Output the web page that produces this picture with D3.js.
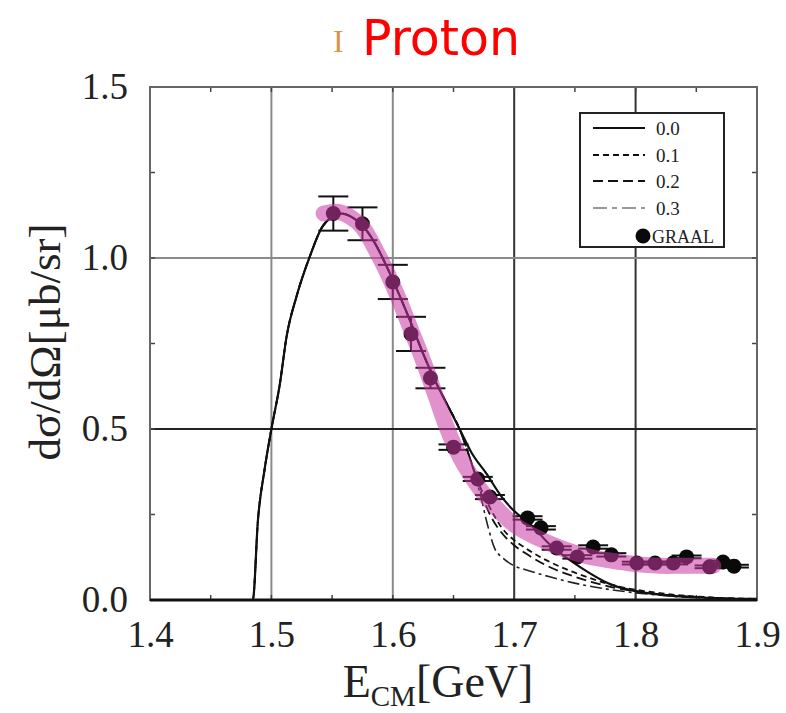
<!DOCTYPE html>
<html>
<head>
<meta charset="utf-8">
<script src="https://cdn.jsdelivr.net/npm/d3@7/dist/d3.min.js"></script>
<style>
  html, body { margin: 0; padding: 0; background: #fff; }
  svg { display: block; }
</style>
</head>
<body>
<script>
// ---------- data ----------
const xTickValues = [1.4, 1.5, 1.6, 1.7, 1.8, 1.9];
const yTickValues = [0.0, 0.5, 1.0, 1.5];
const legendLabels = ["0.0", "0.1", "0.2", "0.3"];

// shared part of the model curves (threshold rise, peak and fall)
const commonE = [1.400, 1.4847, 1.4889, 1.4944, 1.500, 1.5069, 1.5125, 1.5208, 1.532, 1.5417, 1.550, 1.558, 1.566, 1.575, 1.585, 1.595, 1.605, 1.615, 1.625, 1.635, 1.645, 1.655];
const commonY = [0.000, 0.000, 0.233, 0.382, 0.500, 0.630, 0.770, 0.889, 1.008, 1.090, 1.120, 1.130, 1.120, 1.095, 1.045, 0.975, 0.895, 0.810, 0.720, 0.640, 0.570, 0.500];

// tails after the models split
const tail00E = [1.665, 1.677, 1.690, 1.700, 1.713, 1.730, 1.754, 1.780, 1.810, 1.850, 1.900];
const tail00Y = [0.430, 0.370, 0.300, 0.260, 0.222, 0.160, 0.097, 0.045, 0.020, 0.008, 0.003];
const tail01E = [1.663, 1.672, 1.680, 1.690, 1.700, 1.710, 1.730, 1.750, 1.780, 1.820, 1.860, 1.900];
const tail01Y = [0.420, 0.330, 0.270, 0.210, 0.175, 0.150, 0.110, 0.080, 0.045, 0.020, 0.008, 0.003];
const tail02E = [1.663, 1.672, 1.680, 1.690, 1.700, 1.710, 1.730, 1.750, 1.780, 1.820, 1.860, 1.900];
const tail02Y = [0.420, 0.320, 0.250, 0.195, 0.160, 0.135, 0.095, 0.068, 0.038, 0.017, 0.007, 0.002];
const tail03E = [1.663, 1.672, 1.678, 1.684, 1.690, 1.700, 1.710, 1.730, 1.757, 1.780, 1.820, 1.860, 1.900];
const tail03Y = [0.420, 0.310, 0.220, 0.150, 0.125, 0.100, 0.088, 0.067, 0.044, 0.030, 0.014, 0.005, 0.002];

// GRAAL data
const graalE   = [1.551, 1.575, 1.600, 1.615, 1.631, 1.650, 1.670, 1.680, 1.711, 1.722, 1.735, 1.752, 1.765, 1.780, 1.801, 1.816, 1.831, 1.842, 1.861, 1.872, 1.881];
const graalY   = [1.130, 1.100, 0.930, 0.778, 0.649, 0.447, 0.354, 0.301, 0.240, 0.211, 0.152, 0.126, 0.155, 0.132, 0.108, 0.108, 0.108, 0.126, 0.097, 0.111, 0.099];
const graalErr = [0.050, 0.048, 0.050, 0.050, 0.030, 0.008, 0.006, 0.006, 0.005, 0.005, 0.005, 0.005, 0.005, 0.005, 0.004, 0.004, 0.004, 0.004, 0.004, 0.004, 0.004];

// highlighted band
const bandE = [1.543, 1.555, 1.565, 1.575, 1.585, 1.595, 1.605, 1.615, 1.625, 1.635, 1.645, 1.655, 1.665, 1.675, 1.685, 1.700, 1.720, 1.740, 1.760, 1.780, 1.800, 1.820, 1.840, 1.864];
const bandY = [1.130, 1.135, 1.120, 1.090, 1.030, 0.960, 0.880, 0.790, 0.700, 0.600, 0.500, 0.420, 0.360, 0.310, 0.270, 0.220, 0.180, 0.150, 0.128, 0.115, 0.105, 0.100, 0.100, 0.100];

// ---------- layout ----------
const W = 786, H = 713;
const L = 150, R = 757, T = 87, B = 600;

const svg = d3.select("body").append("svg").attr("width", W).attr("height", H);
svg.append("rect").attr("width", W).attr("height", H).attr("fill", "#fff");

const x = d3.scaleLinear().domain([1.4, 1.9]).range([L, R]);
const y = d3.scaleLinear().domain([0, 1.5]).range([B, T]);

const serif = "'Liberation Serif','Times New Roman',serif";

// grid lines
const gridV = [1.5, 1.6, 1.7, 1.8];
const gridVColor = ["#8a8a8a", "#8a8a8a", "#333", "#333"];
svg.append("g").selectAll("line").data(gridV).join("line")
  .attr("x1", d => x(d)).attr("x2", d => x(d)).attr("y1", T).attr("y2", B)
  .attr("stroke", (d, i) => gridVColor[i]).attr("stroke-width", 2);
const gridH = [0.5, 1.0];
const gridHColor = ["#222", "#8a8a8a"];
svg.append("g").selectAll("line").data(gridH).join("line")
  .attr("x1", L).attr("x2", R).attr("y1", d => y(d)).attr("y2", d => y(d))
  .attr("stroke", (d, i) => gridHColor[i]).attr("stroke-width", 2);

// minor ticks on all four sides
const xMinor = x.ticks(10);
const yMinor = d3.range(0, 1.5001, 0.25);
const tk = svg.append("g").attr("stroke", "#444").attr("stroke-width", 1.5);
tk.selectAll(".xb").data(xMinor).join("line")
  .attr("x1", d => x(d)).attr("x2", d => x(d)).attr("y1", B).attr("y2", B - 5);
tk.selectAll(".xt").data(xMinor).join("line")
  .attr("x1", d => x(d)).attr("x2", d => x(d)).attr("y1", T).attr("y2", T + 5);
tk.selectAll(".yl").data(yMinor).join("line")
  .attr("x1", L).attr("x2", L + 5).attr("y1", d => y(d)).attr("y2", d => y(d));
tk.selectAll(".yr").data(yMinor).join("line")
  .attr("x1", R).attr("x2", R - 5).attr("y1", d => y(d)).attr("y2", d => y(d));

// frame
svg.append("rect").attr("x", L).attr("y", T).attr("width", R - L).attr("height", B - T)
  .attr("fill", "none").attr("stroke", "#666").attr("stroke-width", 2);
svg.append("line").attr("x1", L).attr("x2", R).attr("y1", B).attr("y2", B)
  .attr("stroke", "#111").attr("stroke-width", 3);

// axes labels (tick text)
const xAxis = svg.append("g").attr("transform", `translate(0,${B})`)
  .call(d3.axisBottom(x).tickValues(xTickValues).tickFormat(d3.format(".1f")).tickSize(0).tickPadding(21));
xAxis.select(".domain").remove();
xAxis.selectAll("text").attr("font-family", serif).attr("font-size", 37).attr("fill", "#222");

const yAxis = svg.append("g").attr("transform", `translate(${L},0)`)
  .call(d3.axisLeft(y).tickValues(yTickValues).tickFormat(d3.format(".1f")).tickSize(0).tickPadding(22));
yAxis.select(".domain").remove();
yAxis.selectAll("text").attr("font-family", serif).attr("font-size", 37).attr("fill", "#222");

// model curves
const line = d3.line().x(d => x(d[0])).y(d => y(d[1])).curve(d3.curveMonotoneX);
const mk = (tE, tY) => d3.zip(commonE, commonY).concat(d3.zip(tE, tY));
const models = [
  { pts: mk(tail00E, tail00Y), dash: null, color: "#111", w: 2.2 },
  { pts: mk(tail01E, tail01Y), dash: "6,4", color: "#111", w: 1.8 },
  { pts: mk(tail02E, tail02Y), dash: "10,5", color: "#111", w: 1.8 },
  { pts: mk(tail03E, tail03Y), dash: "12,4,3,4", color: "#222", w: 1.6 }
];
svg.append("g").selectAll("path").data(models.slice().reverse()).join("path")
  .attr("d", d => line(d.pts)).attr("fill", "none")
  .attr("stroke", d => d.color).attr("stroke-width", d => d.w)
  .attr("stroke-dasharray", d => d.dash);

// GRAAL points with error bars
const graal = d3.zip(graalE, graalY, graalErr);
const gp = svg.append("g");
gp.selectAll(".eb").data(graal).join("line")
  .attr("x1", d => x(d[0])).attr("x2", d => x(d[0]))
  .attr("y1", d => y(d[1] - d[2])).attr("y2", d => y(d[1] + d[2]))
  .attr("stroke", "#111").attr("stroke-width", 2);
gp.selectAll(".capT").data(graal).join("line")
  .attr("x1", d => x(d[0]) - 15).attr("x2", d => x(d[0]) + 15)
  .attr("y1", d => y(d[1] + d[2])).attr("y2", d => y(d[1] + d[2]))
  .attr("stroke", "#111").attr("stroke-width", 2);
gp.selectAll(".capB").data(graal).join("line")
  .attr("x1", d => x(d[0]) - 15).attr("x2", d => x(d[0]) + 15)
  .attr("y1", d => y(d[1] - d[2])).attr("y2", d => y(d[1] - d[2]))
  .attr("stroke", "#111").attr("stroke-width", 2);
gp.selectAll("circle").data(graal).join("circle")
  .attr("cx", d => x(d[0])).attr("cy", d => y(d[1])).attr("r", 7.5).attr("fill", "#0a0a0a");

// pink band on top
const bandLine = d3.line().x(d => x(d[0])).y(d => y(d[1])).curve(d3.curveCatmullRom);
svg.append("path").attr("d", bandLine(d3.zip(bandE, bandY)))
  .attr("fill", "none").attr("stroke", "rgb(200,55,160)").attr("stroke-opacity", 0.55)
  .attr("stroke-width", 16).attr("stroke-linecap", "round").attr("stroke-linejoin", "round");

// legend
const lg = svg.append("g");
lg.append("rect").attr("x", 580).attr("y", 113).attr("width", 144).attr("height", 134)
  .attr("fill", "#fff").attr("stroke", "#222").attr("stroke-width", 2);
const rowY = [128, 155, 181, 208];
lg.selectAll(".ll").data(models).join("line")
  .attr("x1", 593).attr("x2", 645)
  .attr("y1", (d, i) => rowY[i]).attr("y2", (d, i) => rowY[i])
  .attr("stroke", (d, i) => i === 3 ? "#999" : "#111").attr("stroke-width", 2)
  .attr("stroke-dasharray", (d, i) => i === 3 ? "14,5,5,5" : d.dash);
lg.selectAll(".lt").data(legendLabels).join("text")
  .attr("x", 656).attr("y", (d, i) => rowY[i] + 7)
  .attr("font-family", serif).attr("font-size", 19).attr("fill", "#222").text(d => d);
lg.append("circle").attr("cx", 643).attr("cy", 236).attr("r", 7.5).attr("fill", "#0a0a0a");
lg.append("text").attr("x", 652).attr("y", 243).attr("font-family", serif)
  .attr("font-size", 18).attr("fill", "#222").text("GRAAL");

// axis titles
svg.append("text").attr("transform", "translate(60,342) rotate(-90)")
  .attr("text-anchor", "middle").attr("font-family", serif).attr("font-size", 45).attr("fill", "#222")
  .text("dσ/dΩ[μb/sr]");
const xl = svg.append("text").attr("x", 438).attr("y", 697).attr("text-anchor", "middle")
  .attr("font-family", serif).attr("font-size", 46).attr("fill", "#222");
xl.append("tspan").text("E");
xl.append("tspan").attr("font-size", 29).attr("dy", 9).text("CM");
xl.append("tspan").attr("dy", -9).text("[GeV]");

// title
svg.append("text").attr("x", 333).attr("y", 52).attr("font-family", serif)
  .attr("font-size", 32).attr("fill", "#d8954a").text("I");
svg.append("text").attr("x", 362).attr("y", 55).attr("font-family", "'DejaVu Sans',Verdana,sans-serif")
  .attr("font-size", 49).attr("fill", "#ff0000").text("Proton");
</script>
</body>
</html>
